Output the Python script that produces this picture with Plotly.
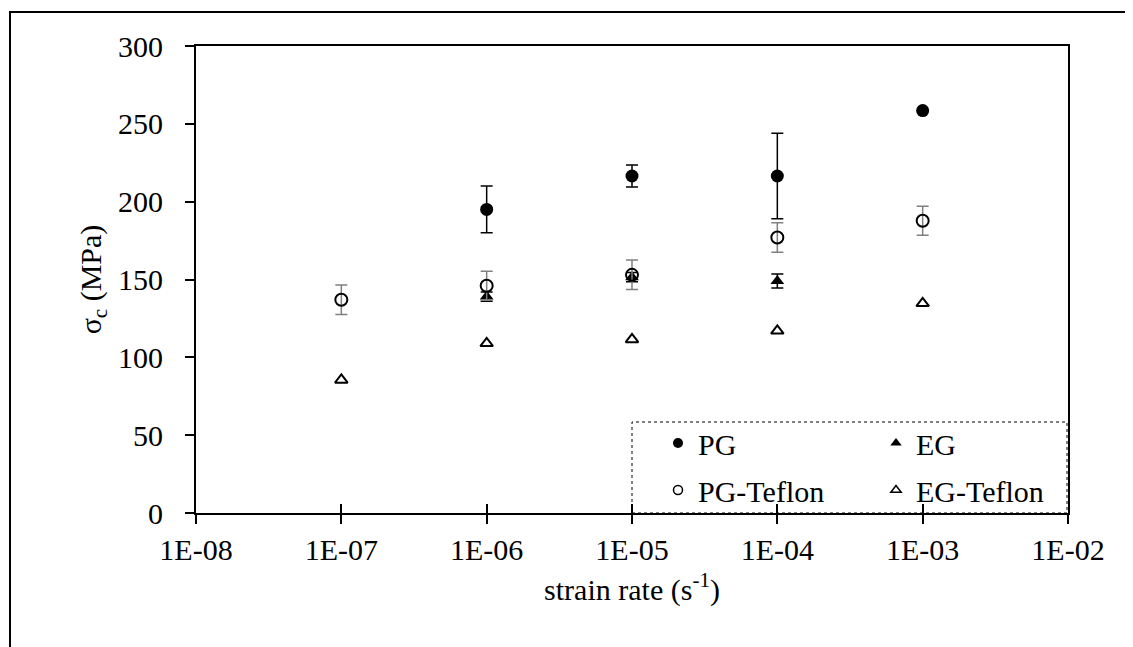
import plotly.graph_objects as go

# ---- data ----
strain_rate = [1e-7, 1e-6, 1e-5, 1e-4, 1e-3]
pg = [None, 195.0, 216.5, 216.5, 258.5]
pg_err = [0, 15.0, 7.0, 27.5, 0]
eg = [None, 139.0, 151.5, 149.0, None]
eg_err = [0, 3.0, 3.0, 4.5, 0]
pg_teflon = [137.0, 146.0, 153.0, 177.0, 187.7]
pg_teflon_err = [9.5, 9.3, 9.5, 9.5, 9.3]
eg_teflon = [85.5, 109.0, 111.5, 117.0, 134.7]

x_tickvals = [1e-8, 1e-7, 1e-6, 1e-5, 1e-4, 1e-3, 1e-2]
x_ticktext = ["1E-08", "1E-07", "1E-06", "1E-05", "1E-04", "1E-03", "1E-02"]
y_tickvals = [0, 50, 100, 150, 200, 250, 300]

FONT = "Liberation Serif"
FS = 30

OFF = 8                      # default page body margin
W, H = 1133, 647
L, R, T, B = 196, 1068, 46, 513   # plot area in page pixels

fig = go.Figure()

def add(name, y, err, symbol, size, errcolor, lw=0):
    marker = dict(symbol=symbol, size=size, color="black")
    if lw:
        marker["line"] = dict(color="black", width=lw)
    fig.add_trace(go.Scatter(
        x=strain_rate, y=y, mode="markers", name=name, showlegend=False,
        marker=marker,
        error_y=dict(type="data", array=err, visible=err is not None,
                     color=errcolor, thickness=1.5, width=6),
    ))

add("PG", pg, pg_err, "circle", 13, "black")
add("EG", eg, eg_err, "triangle-up", 12, "black")
add("PG-Teflon", pg_teflon, pg_teflon_err, "circle-open", 12, "#808080", 2)
add("EG-Teflon", eg_teflon, None, "triangle-up-open", 11, "black", 2)

def px_x(p):
    return (p - L) / (R - L)

def px_y(p):
    return (B - p) / (B - T)

# legend-only entries, each in its own legend for exact placement
legend_entries = [
    ("PG", "circle", 10, "legend", 658, 443),
    ("EG", "triangle-up", 10, "legend2", 876, 443),
    ("PG-Teflon", "circle-open", 9, "legend3", 658, 490),
    ("EG-Teflon", "triangle-up-open", 9, "legend4", 876, 490),
]
legend_layout = {}
for name, sym, sz, lg, lx, ly in legend_entries:
    mk = dict(symbol=sym, size=sz, color="black")
    if "open" in sym:
        mk["line"] = dict(color="black", width=1.5)
    fig.add_trace(go.Scatter(x=[None], y=[None], mode="markers", name=name,
                             marker=mk, legend=lg, showlegend=True))
    legend_layout[lg] = dict(
        x=px_x(lx), y=px_y(ly), xanchor="left", yanchor="middle",
        font=dict(family=FONT, size=FS, color="black"),
        bgcolor="rgba(0,0,0,0)", borderwidth=0, itemclick=False, itemdoubleclick=False,
    )

fig.update_layout(
    width=W - OFF, height=H - OFF,
    margin=dict(l=L - OFF, r=W - R, t=T - OFF, b=H - B),
    paper_bgcolor="white", plot_bgcolor="white",
    font=dict(family=FONT, size=FS, color="black"),
    showlegend=True,
    xaxis=dict(
        type="log", range=[-8, -2], tickvals=x_tickvals, ticktext=x_ticktext,
        showgrid=False, zeroline=False, showline=True, linecolor="black", linewidth=2,
        mirror=True, ticks="outside", ticklen=9, tickwidth=2, tickcolor="black",
        title=dict(text="strain rate (s<sup>-1</sup>)", standoff=14,
                   font=dict(family=FONT, size=FS)),
        tickfont=dict(family=FONT, size=FS),
    ),
    xaxis2=dict(
        type="log", range=[-8, -2], tickvals=x_tickvals, overlaying="x", anchor="y",
        side="bottom", showticklabels=False, showgrid=False, zeroline=False,
        showline=False, ticks="inside", ticklen=9, tickwidth=2, tickcolor="black",
    ),
    yaxis=dict(
        range=[0, 300], tickvals=y_tickvals,
        showgrid=False, zeroline=False, showline=True, linecolor="black", linewidth=2,
        mirror=True, ticks="outside", ticklen=9, tickwidth=2, tickcolor="black",
        ticklabelstandoff=16,
        title=dict(text="σ<sub>c</sub> (MPa)", standoff=8, font=dict(family=FONT, size=FS)),
        tickfont=dict(family=FONT, size=FS),
    ),
    shapes=[
        # dotted legend box
        dict(type="rect", xref="paper", yref="paper",
             x0=px_x(632), x1=px_x(1067), y0=px_y(513), y1=px_y(422),
             line=dict(color="black", width=1, dash="dot"), layer="above"),
        # outer chart border
        dict(type="rect", xref="paper", yref="paper",
             x0=px_x(10), x1=px_x(1200), y0=px_y(700), y1=px_y(12),
             line=dict(color="black", width=2)),
    ],
    **legend_layout,
)

# attach the tick overlay axis with an invisible trace
fig.add_trace(go.Scatter(x=[None], y=[None], xaxis="x2", yaxis="y", showlegend=False, hoverinfo="skip"))

fig.write_html("out.html")
